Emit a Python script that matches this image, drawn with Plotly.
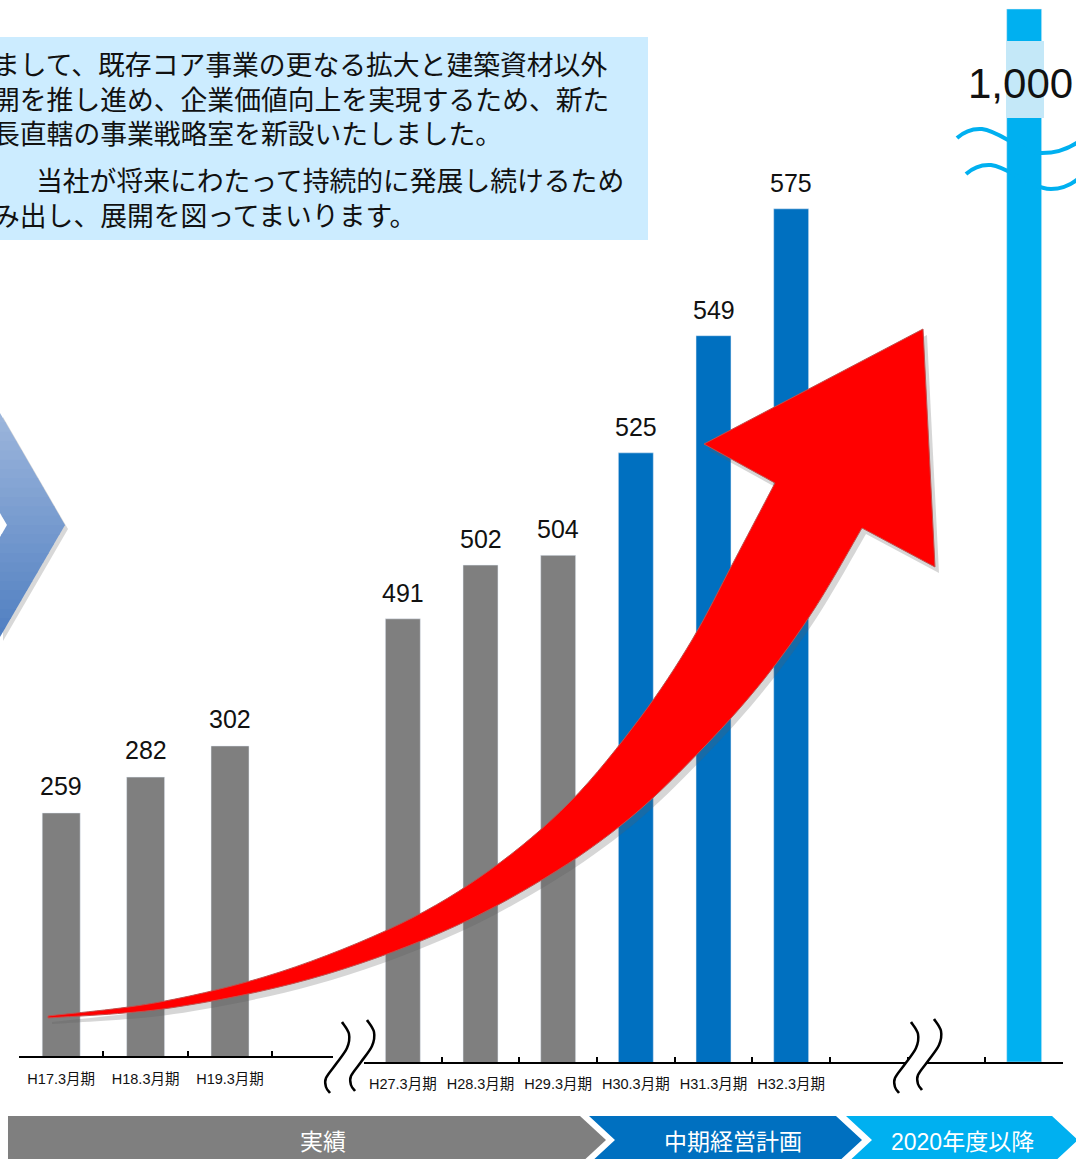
import plotly.graph_objects as go

W, H = 1076, 1159

# ---------------- data ----------------
early_periods = ["H17.3月期", "H18.3月期", "H19.3月期"]
early_values = [259, 282, 302]
actual_periods = ["H27.3月期", "H28.3月期", "H29.3月期"]
actual_values = [491, 502, 504]
plan_periods = ["H30.3月期", "H31.3月期", "H32.3月期"]
plan_values = [525, 549, 575]
future_period = ["   "]          # blank tick label under the 2020+ bar
future_values = [1000]
future_text = ["1,000"]
gap_slots = [" ", "  "]          # empty slots inside the axis break
phase_labels = ["実績", "中期経営計画", "2020年度以降"]
text_lines = [
    "まして、既存コア事業の更なる拡大と建築資材以外",
    "開を推し進め、企業価値向上を実現するため、新た",
    "長直轄の事業戦略室を新設いたしました。",
    "当社が将来にわたって持続的に発展し続けるため",
    "み出し、展開を図ってまいります。",
]

GRAY = "#7F7F7F"
BLUE = "#0070C0"
LBLUE = "#00B0F0"


def px(x):
    return x / W


def py(y):
    return 1 - y / H


def P(x, y):
    return f"{px(x):.5f},{py(y):.5f}"


def smooth(points):
    """Catmull-Rom through points -> cubic bezier segments (no initial M)."""
    segs = []
    n = len(points)
    for i in range(n - 1):
        p0 = points[i - 1] if i > 0 else points[i]
        p1 = points[i]
        p2 = points[i + 1]
        p3 = points[i + 2] if i + 2 < n else points[i + 1]
        c1 = (p1[0] + (p2[0] - p0[0]) / 6, p1[1] + (p2[1] - p0[1]) / 6)
        c2 = (p2[0] - (p3[0] - p1[0]) / 6, p2[1] - (p3[1] - p1[1]) / 6)
        segs.append(f"C {P(*c1)} {P(*c2)} {P(*p2)}")
    return " ".join(segs)


def poly_path(pts):
    return "M " + " L ".join(P(*p) for p in pts) + " Z"


shapes = []
annotations = []

# ---------------- text box ----------------
shapes.append(dict(type="rect", xref="paper", yref="paper", x0=px(0), x1=px(648),
                   y0=py(240), y1=py(37), fillcolor="#CCECFF", line=dict(width=0), layer="below"))
line_pos = [(-9.5, 66), (-9.5, 101), (-9.5, 135), (34, 182), (-9.5, 217)]
for t, (lx, ly) in zip(text_lines, line_pos):
    annotations.append(dict(text=t, xref="paper", yref="paper", x=px(lx), y=py(ly),
                            xanchor="left", yanchor="middle", showarrow=False,
                            font=dict(family="Liberation Sans, Noto Sans CJK JP", size=26.8,
                                      color="#111111")))

# ---------------- bars ----------------
fig = go.Figure()
fig.add_trace(go.Bar(x=early_periods, y=early_values, marker_color=GRAY, xaxis="x", yaxis="y"))
fig.add_trace(go.Bar(x=actual_periods, y=actual_values, marker_color=GRAY, xaxis="x2", yaxis="y2"))
fig.add_trace(go.Bar(x=plan_periods, y=plan_values, marker_color=BLUE, xaxis="x2", yaxis="y2"))
fig.add_trace(go.Bar(x=future_period, y=future_values, marker_color=LBLUE, xaxis="x2", yaxis="y3"))

valfont = dict(family="Liberation Sans, Arial", size=25, color="#111111")
for c, v in zip(early_periods, early_values):
    annotations.append(dict(x=c, y=v, xref="x", yref="y", text=str(v), showarrow=False,
                            yanchor="middle", yshift=27, font=valfont))
for c, v in zip(actual_periods + plan_periods, actual_values + plan_values):
    annotations.append(dict(x=c, y=v, xref="x2", yref="y2", text=str(v), showarrow=False,
                            yanchor="middle", yshift=26, font=valfont))

# light band + value on the 2020+ bar
shapes.append(dict(type="rect", xref="paper", yref="paper", x0=px(1006), x1=px(1044),
                   y0=py(118), y1=py(41), fillcolor="#C4E8F8", line=dict(width=0), layer="above"))
annotations.append(dict(x=future_period[0], y=py(84), xref="x2", yref="paper", text=future_text[0],
                        showarrow=False, yanchor="middle", xshift=-4,
                        font=dict(family="Liberation Sans, Arial", size=42, color="#111111")))
# waves across the tall bar
wave1 = f"M {P(957,138)} Q {P(968,128)} {P(982,129)} C {P(1000,131)} {P(1020,152)} {P(1042,153)} Q {P(1062,153)} {P(1078,142)}"
wave2 = f"M {P(966,174)} Q {P(977,164)} {P(991,165)} C {P(1009,167)} {P(1029,188)} {P(1051,189)} Q {P(1066,189)} {P(1078,179)}"
for wv in (wave1, wave2):
    shapes.append(dict(type="path", xref="paper", yref="paper", path=wv,
                       line=dict(color=LBLUE, width=4), layer="above"))

# ---------------- axis break squiggles ----------------
base_sq = [(342, 1022), (349, 1034), (347, 1048), (336, 1064), (326, 1078), (326, 1087), (330, 1093)]
offsets_pairs = [((0, 0), (25, -2)), ((569, 0), (592, -3))]
for (ax, ay), (bx, by) in offsets_pairs:
    A = [(x + ax, y + ay) for x, y in base_sq]
    B = [(x + bx, y + by) for x, y in base_sq]
    fill = "M " + P(*A[0]) + " " + smooth(A) + " L " + P(*B[-1]) + " " + smooth(B[::-1]) + " Z"
    shapes.append(dict(type="path", xref="paper", yref="paper", path=fill,
                       fillcolor="white", line=dict(width=0), layer="above"))
    for S in (A, B):
        shapes.append(dict(type="path", xref="paper", yref="paper",
                           path="M " + P(*S[0]) + " " + smooth(S),
                           line=dict(color="black", width=2.5), layer="above"))

# ---------------- red arrow ----------------
upper = [(48, 1016), (160, 1002), (280, 972), (400, 924), (490, 870), (570, 802),
         (640, 718), (692, 640), (733, 563), (775, 483)]
lower = [(862, 528), (815, 608), (765, 678), (705, 746), (630, 818), (545, 878),
         (440, 933), (310, 979), (170, 1008), (48, 1018)]
head = [(704, 444), (923, 329), (935, 567), (862, 528)]


def arrow_path(dx=0, dy=0):
    u = [(x + dx, y + dy) for x, y in upper]
    lo = [(x + dx, y + dy) for x, y in lower]
    hd = [(x + dx, y + dy) for x, y in head]
    return ("M " + P(*u[0]) + " " + smooth(u) + " " +
            " ".join("L " + P(*p) for p in hd) + " " + smooth(lo) + " Z")


shapes.append(dict(type="path", xref="paper", yref="paper", path=arrow_path(4, 6),
                   fillcolor="rgba(90,90,90,0.25)", line=dict(width=0), layer="above"))
shapes.append(dict(type="path", xref="paper", yref="paper", path=arrow_path(),
                   fillcolor="#FF0000", line=dict(color="#C0504D", width=1), layer="above"))

# ---------------- left chevron with vertical gradient ----------------
chev = [(0, 413), (65, 525), (0, 637), (0, 537), (7, 525), (0, 513)]


def clip(poly, yv, keep_below):
    out = []
    n = len(poly)
    for i in range(n):
        a, b = poly[i], poly[(i + 1) % n]
        ina = (a[1] >= yv) if keep_below else (a[1] <= yv)
        inb = (b[1] >= yv) if keep_below else (b[1] <= yv)
        if ina:
            out.append(a)
        if ina != inb:
            t = (yv - a[1]) / (b[1] - a[1])
            out.append((a[0] + t * (b[0] - a[0]), yv))
    return out


shapes.append(dict(type="path", xref="paper", yref="paper",
                   path=poly_path([(x + 3, y + 4) for x, y in chev]),
                   fillcolor="rgba(100,100,100,0.25)", line=dict(width=0), layer="above"))
nb = 24
c_top = (157, 182, 220)
c_bot = (80, 127, 193)
for i in range(nb):
    y0 = 413 + (637 - 413) * i / nb
    y1 = 413 + (637 - 413) * (i + 1) / nb + 0.6
    pl = clip(clip(chev, y0, True), y1, False)
    if len(pl) < 3:
        continue
    f = (i + 0.5) / nb
    col = tuple(round(c_top[k] + (c_bot[k] - c_top[k]) * f) for k in range(3))
    shapes.append(dict(type="path", xref="paper", yref="paper", path=poly_path(pl),
                       fillcolor=f"rgb{col}", line=dict(width=0), layer="above"))

# ---------------- bottom phase banners ----------------
banners = [
    ([(8, 1116), (580, 1116), (606, 1140), (580, 1164), (8, 1164)], GRAY, 323),
    ([(589, 1116), (836, 1116), (862, 1140), (836, 1164), (589, 1164), (615, 1140)], BLUE, 733),
    ([(846, 1116), (1052, 1116), (1078, 1140), (1052, 1164), (846, 1164), (872, 1140)], LBLUE, 962),
]
for (pts, col, cx), lab in zip(banners, phase_labels):
    shapes.append(dict(type="path", xref="paper", yref="paper", path=poly_path(pts),
                       fillcolor=col, line=dict(width=0), layer="above"))
    annotations.append(dict(text=lab, xref="paper", yref="paper", x=px(cx), y=py(1142),
                            xanchor="center", yanchor="middle", showarrow=False,
                            font=dict(family="Liberation Sans, Noto Sans CJK JP", size=23,
                                      color="white")))

# ---------------- axes ----------------
common_x = dict(type="category", showline=True, linecolor="black", linewidth=2,
                ticks="inside", ticklen=5, tickwidth=1.5, tickcolor="black",
                tickson="boundaries", tickangle=0, showgrid=False, zeroline=False,
                fixedrange=True,
                tickfont=dict(family="Liberation Sans, Noto Sans CJK JP", size=14.5,
                              color="#111111"))

right_cats = actual_periods + plan_periods + gap_slots + future_period

fig.update_layout(
    width=W, height=H,
    margin=dict(l=0, r=0, t=0, b=0),
    paper_bgcolor="white", plot_bgcolor="rgba(0,0,0,0)",
    showlegend=False, barmode="overlay", bargap=0.55,
    xaxis=dict(common_x, domain=[px(19), px(333)], anchor="y",
               categoryorder="array", categoryarray=early_periods,
               range=[-0.5, 3.22], ticklabelstandoff=9),
    yaxis=dict(domain=[py(1056), 1], range=[103, 103 + 1056 / 1.558], visible=False,
               anchor="x", fixedrange=True),
    xaxis2=dict(common_x, domain=[px(364), px(1063)], anchor="y2",
                categoryorder="array", categoryarray=right_cats,
                range=[-0.5, 8.5], ticklabelstandoff=8),
    yaxis2=dict(domain=[py(1062), 1], range=[400.2, 400.2 + 1062 / 4.881], visible=False,
                anchor="x2", fixedrange=True),
    yaxis3=dict(overlaying="y2", anchor="x2", range=[0, 1000 * 1062 / 1053], visible=False,
                fixedrange=True),
    shapes=shapes,
    annotations=annotations,
)

fig.write_html("out.html", config={"displayModeBar": False},
               post_script="document.body.style.margin='0';document.body.style.overflow='hidden';")
